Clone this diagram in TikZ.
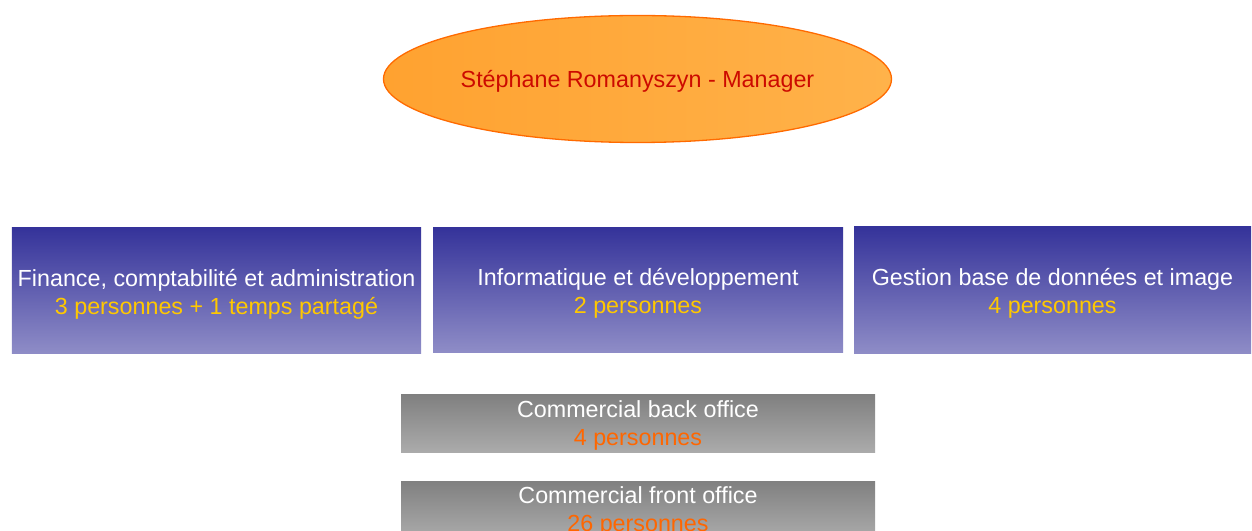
\documentclass[tikz,border=0pt]{standalone}
\usepackage{fontspec}
\setmainfont{Liberation Sans}
\usetikzlibrary{shapes.geometric}
\definecolor{mgrfill}{HTML}{FFA230}
\definecolor{mgrfillb}{HTML}{FFB24A}
\definecolor{mgrline}{HTML}{FF6A00}
\definecolor{mgrtext}{HTML}{CC0A00}
\definecolor{bluetop}{HTML}{35339A}
\definecolor{bluemid}{HTML}{6664B0}
\definecolor{bluebot}{HTML}{8F8DC7}
\definecolor{greytop}{HTML}{808080}
\definecolor{greymid}{HTML}{A2A2A2}
\definecolor{greybot}{HTML}{ABABAB}
\definecolor{staffyellow}{HTML}{FFC800}
\definecolor{stafforange}{HTML}{FF6600}
\tikzset{
  txt/.style={font=\fontsize{23.3bp}{28bp}\selectfont, align=center, inner sep=0pt},
  dept/.style={shade, top color=bluetop, middle color=bluemid, bottom color=bluebot, inner sep=0pt},
  sales/.style={shade, top color=greytop, middle color=greymid, bottom color=greybot, inner sep=0pt},
  boss/.style={ellipse, draw=mgrline, line width=1.3bp, left color=mgrfill, right color=mgrfillb, inner sep=0pt}
}
\begin{document}
\begin{tikzpicture}[x=1bp, y=-1bp]
  \useasboundingbox (0,0) rectangle (1252,531);
  \clip (0,0) rectangle (1252,531);
  % manager
  \node[boss, minimum width=508bp, minimum height=127bp] (mgr) at (637.5,79) {};
  \node[txt, text=mgrtext] (mgrtxt) at ([yshift=-2bp]mgr.center) {Stéphane Romanyszyn - Manager};
  % departments
  \node[dept, minimum width=409bp, minimum height=126bp] (fin) at (216.5,291) {};
  \node[txt, text=white] (fintxt) at ([yshift=-3bp]fin.center)
    {Finance, comptabilité et administration\\\textcolor{staffyellow}{3 personnes + 1 temps partagé}};
  \node[dept, minimum width=410bp, minimum height=125bp] (info) at (638,290.5) {};
  \node[txt, text=white] (infotxt) at ([yshift=-3bp]info.center)
    {Informatique et développement\\\textcolor{staffyellow}{2 personnes}};
  \node[dept, minimum width=397bp, minimum height=127bp] (gest) at (1052.5,290.5) {};
  \node[txt, text=white] (gesttxt) at ([yshift=-3bp]gest.center)
    {Gestion base de données et image\\\textcolor{staffyellow}{4 personnes}};
  % sales teams
  \node[sales, minimum width=474bp, minimum height=57bp] (back) at (638,423.5) {};
  \node[txt, text=white] (backtxt) at ([yshift=-2bp]back.center)
    {Commercial back office\\\textcolor{stafforange}{4 personnes}};
  \node[sales, minimum width=474bp, minimum height=57bp] (front) at (638,509.5) {};
  \node[txt, text=white] (fronttxt) at ([yshift=-2bp]front.center)
    {Commercial front office\\\textcolor{stafforange}{26 personnes}};
\end{tikzpicture}
\end{document}
